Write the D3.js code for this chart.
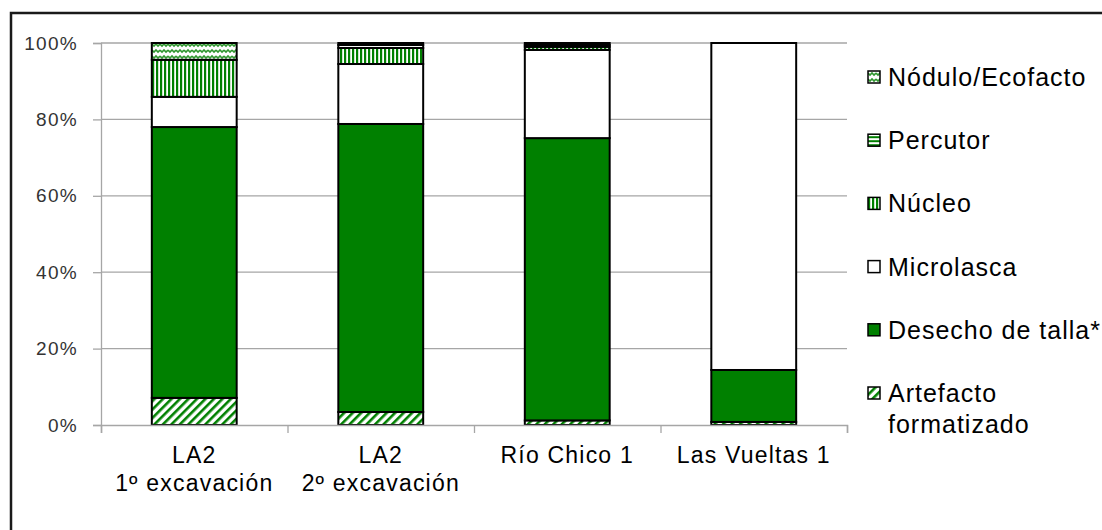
<!DOCTYPE html>
<html>
<head>
<meta charset="utf-8">
<script src="https://cdn.jsdelivr.net/npm/d3@7"></script>
<style>
  html, body { margin: 0; padding: 0; background: #fff; }
  svg { display: block; }
</style>
</head>
<body>
<div id="chart"></div>
<script>
// categories (two-line labels)
const categories = ["LA2 1º", "LA2 2º", "Río Chico 1", "Las Vueltas 1"];
const categoryLabels = [["LA2", "1º excavación"], ["LA2", "2º excavación"], ["Río Chico 1"], ["Las Vueltas 1"]];

// series, bottom to top of each bar (percent)
const seriesNames = ["Artefacto formatizado", "Desecho de talla*", "Microlasca", "Núcleo", "Percutor", "Nódulo/Ecofacto"];
const artefacto = [7.1, 3.4, 1.2, 0.8];
const desecho = [70.9, 75.4, 73.9, 13.6];
const microlasca = [7.9, 15.7, 23.1, 85.6];
const nucleo = [9.7, 4.2, 0.8, 0];
const percutor = [0, 0.8, 0.5, 0];
const nodulo = [4.4, 0.5, 0.5, 0];

const yTicks = [0, 20, 40, 60, 80, 100];
const legendLabels = [["Nódulo/Ecofacto"], ["Percutor"], ["Núcleo"], ["Microlasca"], ["Desecho de talla*"], ["Artefacto", "formatizado"]];

const W = 1102, H = 530;
const plot = { left: 101, right: 847, top: 43, bottom: 425 };

const svg = d3.select("#chart").append("svg")
  .attr("width", W).attr("height", H);

svg.append("rect").attr("width", W).attr("height", H).attr("fill", "#fff");

// outer frame
svg.append("rect")
  .attr("x", 11).attr("y", 13)
  .attr("width", 1200).attr("height", 700)
  .attr("fill", "none")
  .attr("stroke", "#1a1a1a")
  .attr("stroke-width", 2.5);

// patterns
const green = "#008000";
const defs = svg.append("defs");

const pArt = defs.append("pattern").attr("id", "p-art")
  .attr("patternUnits", "userSpaceOnUse").attr("width", 6).attr("height", 6)
  .attr("patternTransform", "rotate(45)");
pArt.append("rect").attr("width", 6).attr("height", 6).attr("fill", "#fff");
pArt.append("rect").attr("width", 2.6).attr("height", 6).attr("fill", green);

const pNuc = defs.append("pattern").attr("id", "p-nuc")
  .attr("patternUnits", "userSpaceOnUse").attr("width", 4).attr("height", 4);
pNuc.append("rect").attr("width", 4).attr("height", 4).attr("fill", "#fff");
pNuc.append("rect").attr("width", 2.2).attr("height", 4).attr("fill", green);

const pPer = defs.append("pattern").attr("id", "p-per")
  .attr("patternUnits", "userSpaceOnUse").attr("width", 4).attr("height", 4);
pPer.append("rect").attr("width", 4).attr("height", 4).attr("fill", "#fff");
pPer.append("rect").attr("width", 4).attr("height", 2).attr("fill", green);

const pNod = defs.append("pattern").attr("id", "p-nod")
  .attr("patternUnits", "userSpaceOnUse").attr("width", 8).attr("height", 6);
pNod.append("rect").attr("width", 8).attr("height", 6).attr("fill", "#fff");
pNod.append("path").attr("d", "M0,2 L2,4 L4,2 L6,4 L8,2")
  .attr("fill", "none").attr("stroke", "#2e962e").attr("stroke-width", 1.6);

const fills = ["url(#p-art)", green, "#fff", "url(#p-nuc)", "url(#p-per)", "url(#p-nod)"];
const legendFills = fills.slice().reverse();

// scales
const x = d3.scaleBand()
  .domain(categories)
  .range([plot.left, plot.right])
  .paddingInner(0.545)
  .paddingOuter(0.2725);

const y = d3.scaleLinear().domain([0, 100]).range([plot.bottom, plot.top]);

// gridlines
svg.append("g")
  .selectAll("line")
  .data(yTicks.filter(d => d > 0))
  .join("line")
  .attr("x1", plot.left).attr("x2", plot.right)
  .attr("y1", d => y(d)).attr("y2", d => y(d))
  .attr("stroke", "#a6a6a6").attr("stroke-width", 1.3);

// y axis
const yAxis = svg.append("g")
  .attr("transform", `translate(${plot.left},0)`)
  .call(d3.axisLeft(y).tickValues(yTicks).tickSize(8).tickPadding(15).tickFormat(d => d + "%"));
yAxis.select(".domain").attr("stroke", "#a6a6a6").attr("stroke-width", 1.3);
yAxis.selectAll(".tick line").attr("stroke", "#a6a6a6").attr("stroke-width", 1.3);
yAxis.selectAll("text")
  .attr("fill", "#333")
  .style("font-family", "'Liberation Sans', Arial, sans-serif")
  .style("font-size", "19px")
  .style("letter-spacing", "1.3px");

// stacked bars
const rows = categories.map((c, i) => ({
  cat: c,
  "Artefacto formatizado": artefacto[i],
  "Desecho de talla*": desecho[i],
  "Microlasca": microlasca[i],
  "Núcleo": nucleo[i],
  "Percutor": percutor[i],
  "Nódulo/Ecofacto": nodulo[i]
}));
const stacked = d3.stack().keys(seriesNames)(rows);

svg.append("g")
  .selectAll("g")
  .data(stacked)
  .join("g")
  .attr("fill", (d, i) => fills[i])
  .selectAll("rect")
  .data(d => d.filter(s => s[1] - s[0] > 0))
  .join("rect")
  .attr("x", d => x(d.data.cat))
  .attr("width", x.bandwidth())
  .attr("y", d => y(d[1]))
  .attr("height", d => y(d[0]) - y(d[1]))
  .attr("stroke", "#000")
  .attr("stroke-width", 2);

// x axis (baseline and category boundary ticks)
const bounds = d3.scaleLinear().domain([0, categories.length]).range([plot.left, plot.right]);
const xAxis = svg.append("g")
  .attr("transform", `translate(0,${plot.bottom})`)
  .call(d3.axisBottom(bounds).tickValues(d3.range(categories.length + 1)).tickSize(8).tickFormat(""));
xAxis.select(".domain").attr("stroke", "#a6a6a6").attr("stroke-width", 1.5);
xAxis.selectAll(".tick line").attr("stroke", "#a6a6a6").attr("stroke-width", 1.3);

// category labels
const xl = svg.append("g")
  .selectAll("text")
  .data(categories)
  .join("text")
  .attr("x", d => x(d) + x.bandwidth() / 2)
  .attr("y", 463)
  .attr("text-anchor", "middle")
  .attr("fill", "#000")
  .style("font-family", "'Liberation Sans', Arial, sans-serif")
  .style("font-size", "23px")
  .style("letter-spacing", "1.2px");
xl.selectAll("tspan")
  .data((d, i) => categoryLabels[i])
  .join("tspan")
  .attr("x", function () { return this.parentNode.getAttribute("x"); })
  .attr("dy", (d, i) => i === 0 ? 0 : 28)
  .text(d => d);

// legend
const legend = svg.append("g");
const lg = legend.selectAll("g")
  .data(legendLabels)
  .join("g")
  .attr("transform", (d, i) => `translate(868,${77 + i * 63.2})`);
lg.append("rect")
  .attr("x", 0).attr("y", -6)
  .attr("width", 12).attr("height", 12)
  .attr("fill", (d, i) => legendFills[i])
  .attr("stroke", "#000").attr("stroke-width", 1.5);
lg.append("text")
  .attr("x", 20).attr("y", 9)
  .attr("fill", "#000")
  .style("font-family", "'Liberation Sans', Arial, sans-serif")
  .style("font-size", "25px")
  .style("letter-spacing", "1px")
  .selectAll("tspan")
  .data(d => d)
  .join("tspan")
  .attr("x", 20)
  .attr("dy", (d, i) => i === 0 ? 0 : 31)
  .text(d => d);
</script>
</body>
</html>
